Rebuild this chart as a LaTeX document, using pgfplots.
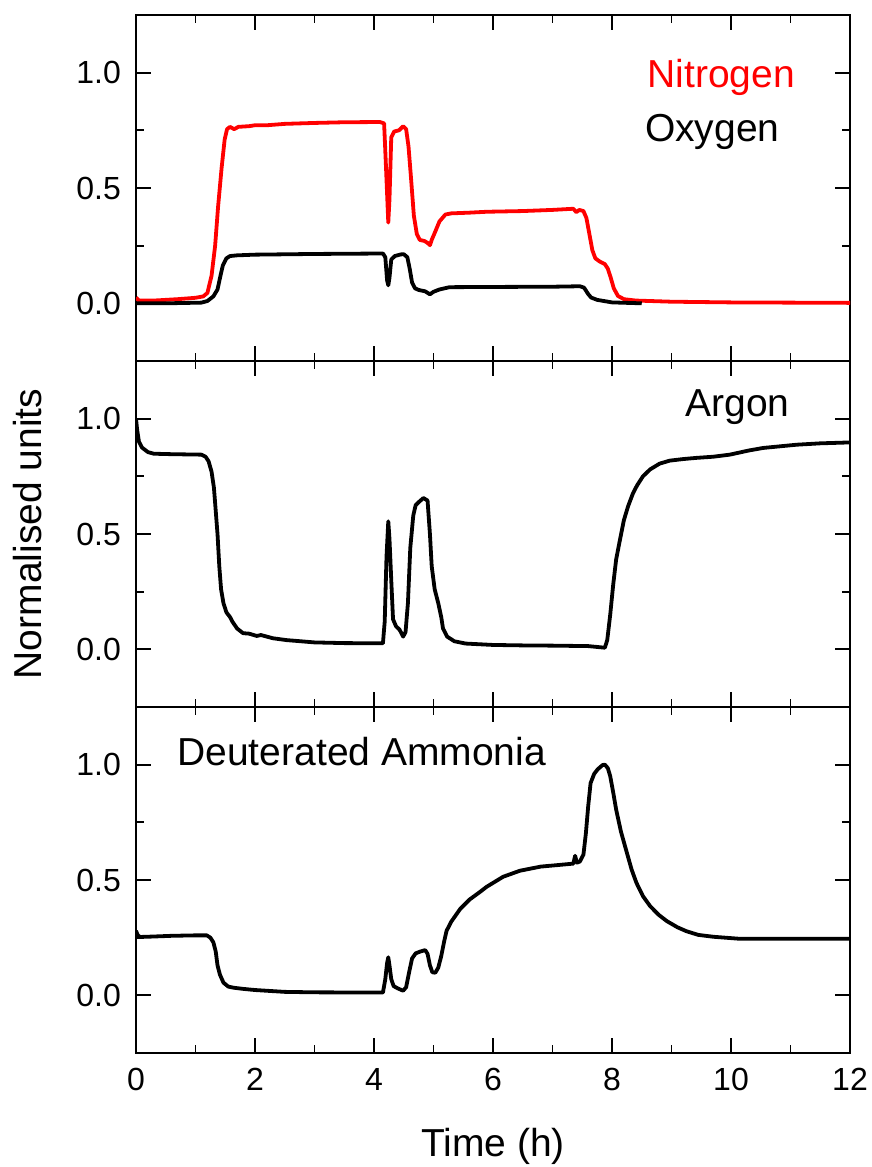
\documentclass[border=0pt]{standalone}
\usepackage{pgfplots}
\pgfplotsset{compat=1.18}
\usepackage{fontspec}
\setmainfont{Liberation Sans}

\pgfplotsset{
  panel/.style={
    scale only axis, width=357pt, height=173pt,
    xmin=0, xmax=12, ymin=-0.25, ymax=1.25,
    xtick={0,2,...,12}, minor xtick={1,3,...,11},
    ytick={0,0.5,1}, minor ytick={0.25,0.75},
    tick align=inside,
    major tick length=7.5pt, minor tick length=4pt,
    axis line style={line width=1pt},
    every tick/.style={black, line width=0.9pt},
    tick label style={font=\fontsize{16}{16}\selectfont},
    /pgf/number format/assume math mode=true,
    yticklabel style={/pgf/number format/fixed, /pgf/number format/fixed zerofill, /pgf/number format/precision=1, xshift=-4pt},
    xticklabel style={yshift=-4pt},
    label style={font=\fontsize{19.5}{19.5}\selectfont},
    every axis plot/.append style={line width=1.9pt, no marks, line join=round},
  }
}

\begin{document}
\begin{tikzpicture}
\useasboundingbox (0,0) rectangle (436pt,583.5pt);

% ---------- Top panel ----------
\begin{axis}[panel, at={(68pt,403pt)}, anchor=south west, xticklabels={}]
\addplot[red] coordinates {
(0,0.025) (0.05,0.012) (0.3,0.012) (0.7,0.018) (1.0,0.024) (1.13,0.03) (1.2,0.045)
(1.27,0.12) (1.33,0.25) (1.38,0.42) (1.44,0.59) (1.49,0.71) (1.53,0.755) (1.58,0.765)
(1.65,0.755) (1.72,0.765) (1.9,0.768) (2.0,0.772) (2.2,0.772) (2.5,0.778) (3.0,0.782)
(3.5,0.785) (4.1,0.786) (4.17,0.78) (4.2,0.6) (4.24,0.35) (4.26,0.45) (4.29,0.72)
(4.34,0.745) (4.42,0.75) (4.49,0.768) (4.54,0.755) (4.58,0.68) (4.62,0.55) (4.67,0.38)
(4.72,0.3) (4.77,0.275) (4.85,0.27) (4.9,0.262) (4.94,0.252) (4.97,0.275) (5.02,0.305)
(5.1,0.355) (5.2,0.385) (5.3,0.39) (5.6,0.393) (5.9,0.397) (6.5,0.4) (7.0,0.405)
(7.35,0.41) (7.4,0.395) (7.45,0.405) (7.52,0.40) (7.57,0.37) (7.62,0.3) (7.67,0.23)
(7.72,0.195) (7.8,0.18) (7.88,0.17) (7.93,0.15) (7.98,0.11) (8.03,0.065) (8.1,0.032)
(8.2,0.018) (8.4,0.012) (9.0,0.007) (10.0,0.004) (12.0,0.002)
};
\addplot[black] coordinates {
(0,0.0) (0.5,0.0) (1.1,0.003) (1.2,0.01) (1.3,0.03) (1.37,0.06) (1.42,0.12) (1.46,0.165)
(1.52,0.195) (1.58,0.205) (1.7,0.208) (2.0,0.211) (3.0,0.214) (4.15,0.216) (4.19,0.2)
(4.22,0.1) (4.24,0.078) (4.26,0.11) (4.29,0.19) (4.35,0.205) (4.45,0.212) (4.5,0.213)
(4.56,0.2) (4.6,0.15) (4.64,0.09) (4.69,0.065) (4.75,0.058) (4.86,0.052) (4.94,0.039)
(5.0,0.05) (5.1,0.06) (5.27,0.07) (6.0,0.071) (7.0,0.072) (7.46,0.074) (7.53,0.068)
(7.6,0.04) (7.65,0.025) (7.75,0.015) (8.0,0.004) (8.5,0.0)
};
\node[anchor=base west, text=red, font=\fontsize{19.5}{19.5}\selectfont, inner sep=0pt] at (axis cs:8.59,0.935) {Nitrogen};
\node[anchor=base west, text=black, font=\fontsize{19.5}{19.5}\selectfont, inner sep=0pt] at (axis cs:8.55,0.70) {Oxygen};
\end{axis}

% ---------- Middle panel ----------
\begin{axis}[panel, at={(68pt,230pt)}, anchor=south west, xticklabels={},
  ylabel={Normalised units},
  ylabel style={at={(axis description cs:-0.1513,0.5)}, anchor=center}]
\addplot[black] coordinates {
(0,1.0) (0.02,0.95) (0.05,0.9) (0.1,0.875) (0.2,0.855) (0.3,0.848) (0.6,0.846) (1.1,0.844)
(1.17,0.835) (1.22,0.815) (1.27,0.77) (1.31,0.70) (1.34,0.6) (1.37,0.5) (1.40,0.36)
(1.43,0.26) (1.47,0.2) (1.52,0.16) (1.58,0.14) (1.62,0.12) (1.7,0.09) (1.8,0.07)
(1.9,0.068) (2.03,0.058) (2.1,0.062) (2.3,0.048) (2.53,0.04) (3.0,0.03) (3.5,0.027)
(4.15,0.026) (4.18,0.12) (4.21,0.40) (4.24,0.555) (4.26,0.48) (4.29,0.3) (4.32,0.13)
(4.37,0.1) (4.43,0.085) (4.49,0.055) (4.53,0.075) (4.57,0.2) (4.61,0.44) (4.66,0.58)
(4.7,0.625) (4.76,0.64) (4.83,0.656) (4.9,0.645) (4.94,0.5) (4.97,0.36) (5.02,0.26)
(5.08,0.2) (5.13,0.14) (5.16,0.09) (5.23,0.055) (5.35,0.035) (5.54,0.025) (6.0,0.019)
(6.5,0.017) (7.0,0.016) (7.6,0.014) (7.88,0.007) (7.92,0.04) (7.97,0.15) (8.02,0.28)
(8.07,0.39) (8.13,0.47) (8.2,0.56) (8.27,0.62) (8.35,0.675) (8.42,0.71) (8.52,0.75)
(8.64,0.78) (8.8,0.805) (8.97,0.818) (9.2,0.825) (9.42,0.83) (9.7,0.835) (9.98,0.844)
(10.3,0.862) (10.54,0.873) (11.1,0.887) (11.5,0.893) (12,0.897)
};
\node[anchor=base west, font=\fontsize{19.5}{19.5}\selectfont, inner sep=0pt] at (axis cs:9.23,1.009) {Argon};
\end{axis}

% ---------- Bottom panel ----------
\begin{axis}[panel, at={(68pt,57pt)}, anchor=south west,
  xlabel={Time (h)},
  xlabel style={at={(axis description cs:0.5,-0.2977)}, anchor=base}]
\addplot[black] coordinates {
(0,0.28) (0.03,0.26) (0.07,0.253) (0.3,0.255) (0.6,0.258) (1.0,0.26) (1.19,0.26)
(1.25,0.25) (1.3,0.23) (1.34,0.19) (1.37,0.13) (1.41,0.09) (1.47,0.055) (1.55,0.038)
(1.64,0.033) (1.8,0.028) (2.0,0.023) (2.5,0.015) (3.0,0.013) (4.15,0.012) (4.19,0.07)
(4.22,0.14) (4.24,0.165) (4.26,0.13) (4.29,0.07) (4.33,0.04) (4.4,0.03) (4.49,0.02)
(4.54,0.035) (4.59,0.1) (4.64,0.16) (4.7,0.182) (4.78,0.19) (4.86,0.196) (4.9,0.18)
(4.94,0.13) (4.98,0.1) (5.03,0.098) (5.08,0.12) (5.13,0.17) (5.18,0.235) (5.22,0.28)
(5.3,0.32) (5.45,0.375) (5.61,0.416) (5.78,0.448) (5.89,0.47) (6.17,0.514) (6.45,0.54)
(6.8,0.558) (7.1,0.565) (7.35,0.571) (7.38,0.605) (7.41,0.575) (7.46,0.58) (7.52,0.61)
(7.56,0.7) (7.6,0.82) (7.64,0.92) (7.7,0.96) (7.76,0.98) (7.84,0.998) (7.88,1.0)
(7.93,0.985) (7.97,0.95) (8.02,0.88) (8.07,0.805) (8.15,0.71) (8.25,0.618) (8.33,0.545)
(8.41,0.488) (8.52,0.43) (8.64,0.387) (8.78,0.35) (8.92,0.322) (9.1,0.295) (9.25,0.278)
(9.45,0.262) (9.7,0.254) (10.0,0.248) (10.15,0.245) (11,0.245) (12,0.245)
};
\node[anchor=base west, font=\fontsize{19.5}{19.5}\selectfont, inner sep=0pt] at (axis cs:0.69,0.996) {Deuterated Ammonia};
\end{axis}
\end{tikzpicture}
\end{document}
